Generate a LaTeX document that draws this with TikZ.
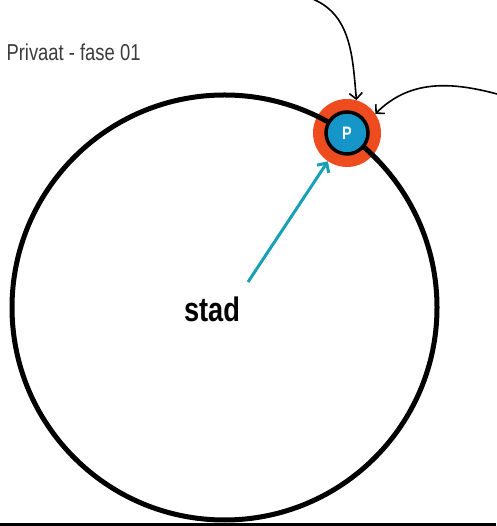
\documentclass[tikz,border=0pt]{standalone}
\usepackage{fontspec}
\usepackage{tikz}
\usetikzlibrary{arrows.meta,positioning,calc}
\newfontfamily\condfont{Liberation Sans}[FakeStretch=0.8]
\definecolor{ringorange}{RGB}{238,76,30}
\definecolor{pblue}{RGB}{22,150,200}
\definecolor{tealarrow}{RGB}{24,160,180}
\definecolor{labelgray}{RGB}{60,60,60}

\begin{document}
\begin{tikzpicture}[x=1pt, y=1pt,
        ring/.style={circle, fill=ringorange, minimum size=68pt, inner sep=0pt},
        pnode/.style={circle, draw=black, line width=3.5pt, fill=pblue, minimum size=42pt,
                      inner sep=0pt, text=white, font=\condfont\bfseries\fontsize{18}{18}\selectfont},
        arrow/.style={-{Straight Barb[length=6pt,width=13pt]}, line width=1.6pt, black},
        tealline/.style={-{Straight Barb[length=7pt,width=14pt]}, line width=3pt, tealarrow}
    ]
    \useasboundingbox (0,0) rectangle (496,526);
    \fill[black] (0,0) rectangle (496,3);

    \node[anchor=west, text=labelgray, font=\condfont\fontsize{23}{23}\selectfont]
        (titel) at (3,474) {Privaat - fase 01};

    % ring onder de stadscirkel, P erboven
    \node[ring] (ring) at (347,393) {};
    \draw[line width=5pt] (224.5,218.5) circle (212.5);
    \node[pnode] (p) at (ring.center) {P};

    \node[font=\condfont\bfseries\fontsize{34}{34}\selectfont] (stad) at (212,217) {stad};

    \coordinate (tail) at (248,244);
    \coordinate (boven) at (310,528);
    \coordinate (rechts) at (497,432);

    \draw[tealline] (tail) -- (ring.236);
    \draw[arrow] (boven) to[out=-20, in=95] (ring.74);
    \draw[arrow] (rechts) to[out=165, in=45] (ring.34);
\end{tikzpicture}
\end{document}
